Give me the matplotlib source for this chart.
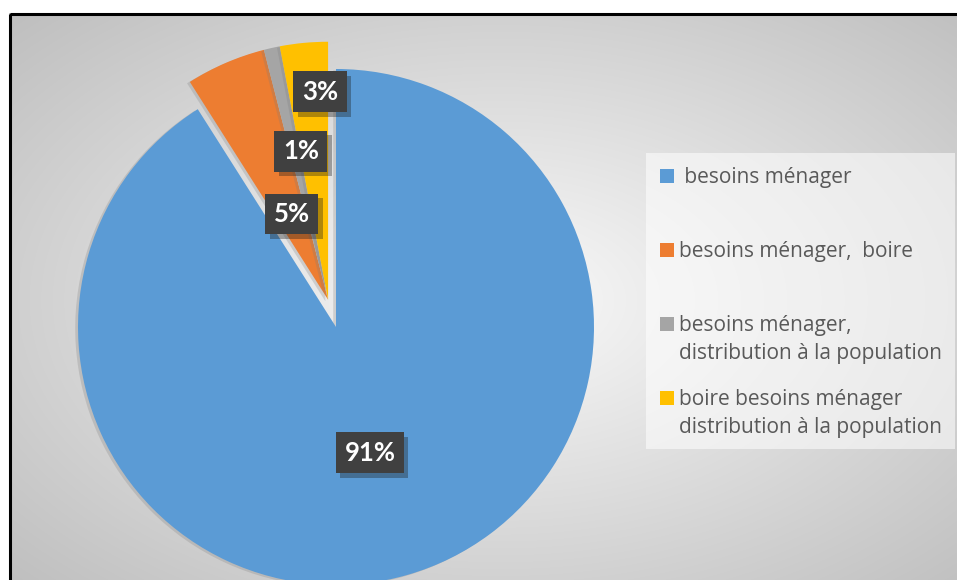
import numpy as np
import matplotlib
matplotlib.use("Agg")
import matplotlib.pyplot as plt
from matplotlib.patches import Rectangle
import matplotlib.patheffects as pe

# Data
categories = [
    " besoins ménager",
    "besoins ménager,  boire",
    "besoins ménager,\ndistribution à la population",
    "boire besoins ménager\ndistribution à la population",
]
shares = [91, 5, 1, 3]
colors = ["#5B9BD5", "#ED7D31", "#A5A5A5", "#FFC000"]

W, H, DPI = 957, 580, 100
fig = plt.figure(figsize=(W / DPI, H / DPI), dpi=DPI)
fig.patch.set_facecolor("white")

# Radial-gradient chart area with a black frame
bg = fig.add_axes([0, 0, 1, 1])
bg.set_axis_off()
fx0, fy0 = 9, 13
yy, xx = np.mgrid[0:H, 0:W]
cx, cy = 500, 300
d = np.sqrt(((xx - cx) / (500 * 1.35)) ** 2 + ((yy - cy) / (300 * 1.35)) ** 2)
grad = np.clip(0.98 - 0.23 * d, 0, 1)
img = np.dstack([grad, grad, grad])
img[:fy0, :, :] = 1.0
img[:, :fx0, :] = 1.0
bg.imshow(img, extent=(0, W, H, 0), interpolation="nearest")
bg.set_xlim(0, W)
bg.set_ylim(H, 0)
bg.add_patch(Rectangle((fx0 + 1, fy0 + 1), W + 100, H + 100, fill=False,
                       ec="black", lw=2.2, zorder=2))

# Pie axes: one data unit = pie radius
R = 258.0
pcx, pcy = 336.0, 327.0
ax = fig.add_axes([0, 0, 1, 1])
ax.set_axis_off()

wedges, _ = ax.pie(shares, colors=colors, startangle=90, counterclock=False,
                   radius=1.0, wedgeprops=dict(linewidth=0))
ax.set_aspect("auto")
ax.set_xlim(-pcx / R, (W - pcx) / R)
ax.set_ylim((pcy - H) / R, pcy / R)

# Pull the small slices out together, along the bisector of their group
small = sum(shares[1:])
mid = np.deg2rad(90 + 360.0 * small / sum(shares) / 2)
pull = 0.11
for w in wedges[1:]:
    w.set_center((pull * np.cos(mid), pull * np.sin(mid)))
for w in wedges:
    w.set_path_effects([pe.SimplePatchShadow(offset=(-2, -1), shadow_rgbFace="#7a7a7a",
                                             alpha=0.25), pe.Normal()])

# Percentage labels in dark boxes
label_pos = [(0.132, -0.488), (-0.171, 0.438), (-0.136, 0.682), (-0.062, 0.911)]
for v, (lx, ly) in zip(shares, label_pos):
    t = ax.text(lx, ly, f"{v}%", ha="center", va="center", color="white",
                fontsize=18.5, fontweight="bold", family="Lato",
                bbox=dict(boxstyle="square,pad=0.33", fc="#404040", ec="none", lw=0))
    t.get_bbox_patch().set_path_effects([
        pe.SimplePatchShadow(offset=(3, -3), shadow_rgbFace="#1a1a1a", alpha=0.35),
        pe.Normal()])

# Legend panel
lg_x0, lg_y0, lg_x1, lg_y1 = 646, 153, 955, 449
bg.add_patch(Rectangle((lg_x0, lg_y0), lg_x1 - lg_x0, lg_y1 - lg_y0,
                       fc="white", ec="none", alpha=0.55, zorder=3))
marker_y = [176, 250, 324, 398]
line_step = 29
for lab, col, my in zip(categories, colors, marker_y):
    bg.add_patch(Rectangle((660, my - 7), 14, 14, fc=col, ec="none", zorder=4))
    for i, line in enumerate(lab.split("\n")):
        bg.text(679, my + 6.5 + i * line_step, line, ha="left", va="baseline",
                color="#595959", fontsize=15, family="Open Sans", zorder=5)

fig.savefig("out.png", dpi=DPI)
